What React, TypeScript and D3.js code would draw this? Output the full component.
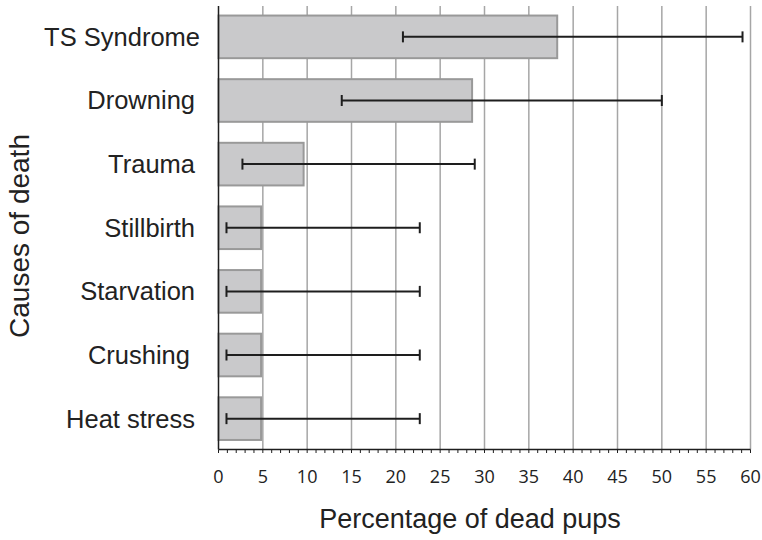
import React from "react";
import * as d3 from "d3";

const categories = ["TS Syndrome", "Drowning", "Trauma", "Stillbirth", "Starvation", "Crushing", "Heat stress"];
const values = [38.2, 28.6, 9.6, 4.8, 4.8, 4.8, 4.8];
const lowerCI = [20.8, 13.9, 2.7, 0.9, 0.9, 0.9, 0.9];
const upperCI = [59.1, 50.0, 28.9, 22.7, 22.7, 22.7, 22.7];
const xTicks = [0, 5, 10, 15, 20, 25, 30, 35, 40, 45, 50, 55, 60];

const W = 762, H = 540;
const left = 218.5, right = 750.5, top = 6, bottom = 449.5;

export default function App() {
  const x = d3.scaleLinear().domain([0, 60]).range([left, right]);
  const y = d3.scaleBand<string>().domain(categories).range([top, bottom]).paddingInner(0.33).paddingOuter(0.15);
  const minor = d3.range(0, 61, 1);
  const bw = y.bandwidth();
  return (
    <svg width={W} height={H} style={{ position: "absolute", left: 0, top: 0, background: "#fff" }}>
      {xTicks.slice(1).map((t) => (
        <line key={"g" + t} x1={x(t)} x2={x(t)} y1={top} y2={bottom} stroke="#a6a6a6" strokeWidth={1.5} />
      ))}
      {categories.map((c, i) => (
        <rect key={"b" + c} x={x(0)} y={y(c)!} width={x(values[i]) - x(0)} height={bw}
          fill="#c9c9cb" stroke="#999" strokeWidth={2} />
      ))}
      {categories.map((c, i) => {
        const cy = y(c)! + bw / 2;
        return (
          <g key={"e" + c} stroke="#1e1e1e" strokeWidth={2}>
            <line x1={x(lowerCI[i])} x2={x(upperCI[i])} y1={cy} y2={cy} />
            <line x1={x(lowerCI[i])} x2={x(lowerCI[i])} y1={cy - 5.5} y2={cy + 5.5} />
            <line x1={x(upperCI[i])} x2={x(upperCI[i])} y1={cy - 5.5} y2={cy + 5.5} />
          </g>
        );
      })}
      <line x1={left} x2={left} y1={top} y2={bottom} stroke="#1e1e1e" strokeWidth={1.5} />
      <line x1={left} x2={right} y1={bottom} y2={bottom} stroke="#1e1e1e" strokeWidth={1.5} />
      {minor.map((t) => (
        <line key={"m" + t} x1={x(t)} x2={x(t)} y1={bottom} y2={bottom + 3.5} stroke="#1e1e1e" strokeWidth={1} />
      ))}
      {xTicks.map((t) => (
        <text key={"t" + t} x={x(t)} y={483} textAnchor="middle" fontFamily="'Open Sans', sans-serif" fontSize={18} fill="#222">
          {t}
        </text>
      ))}
      {categories.map((c) => (
        <text key={"l" + c} x={c === "TS Syndrome" ? 200 : c === "Crushing" ? 190 : 195} y={y(c)! + bw / 2}
          dy="0.35em" textAnchor="end" fontFamily="'Liberation Sans', Arial, sans-serif" fontSize={25.5} fill="#222">
          {c}
        </text>
      ))}
      <text x={470} y={528} textAnchor="middle" fontFamily="'Liberation Sans', Arial, sans-serif" fontSize={27} fill="#222">
        Percentage of dead pups
      </text>
      <text transform="translate(29,236) rotate(-90)" textAnchor="middle" fontFamily="'Liberation Sans', Arial, sans-serif" fontSize={28} fill="#222">
        Causes of death
      </text>
    </svg>
  );
}
